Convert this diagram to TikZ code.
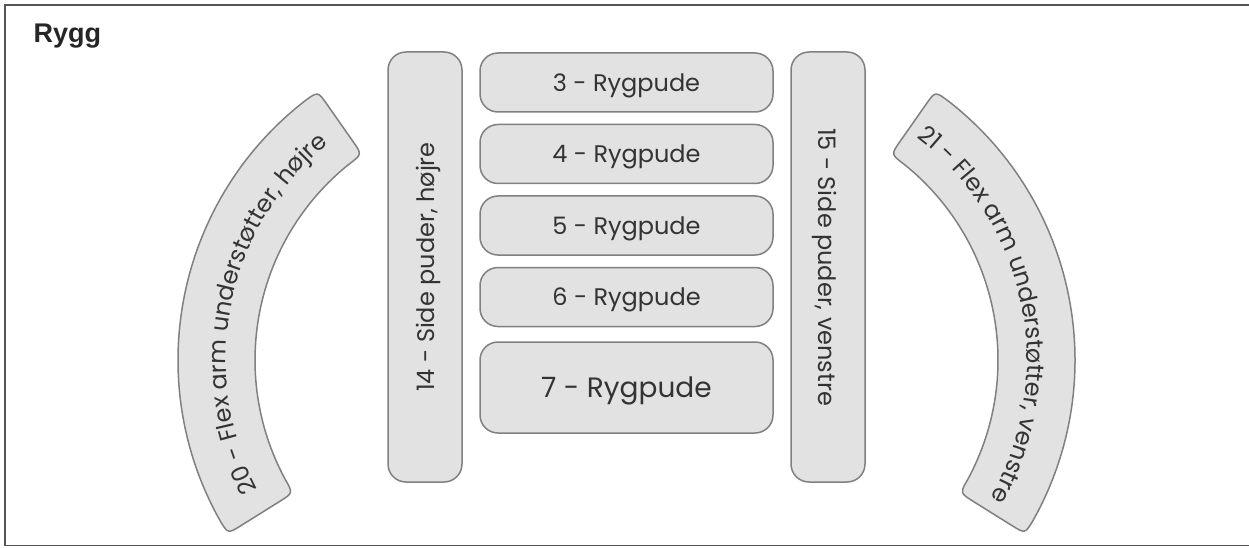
\documentclass[tikz,border=0pt]{standalone}
\usepackage{fontspec}
\setmainfont{Poppins}
\newfontfamily\headfont{Liberation Sans}
\usetikzlibrary{positioning,decorations.text}
\definecolor{padfill}{HTML}{E2E2E2}
\definecolor{padline}{HTML}{808080}
\definecolor{padtext}{HTML}{333333}
\definecolor{framecol}{HTML}{555555}
\tikzset{
  pad/.style={draw=padline, fill=padfill, line width=1.5pt, rounded corners=18pt,
    text=padtext, inner sep=0pt, text depth=0pt, font=\fontsize{24}{28}\selectfont},
  cushion/.style={pad, minimum width=293pt, minimum height=59pt},
  sidepad/.style={pad, minimum width=430pt, minimum height=74pt},
  armpad/.style={draw=padline, fill=padfill, line width=1.5pt},
  armtext/.style={decorate, decoration={text along path, text align=center,
    text color=padtext, text={|\fontsize{24}{28}\selectfont|#1}}}
}
% curved arm rest: centre x, first angle, last angle
\newcommand\flexarm[3]{%
  \begin{scope}[shift={(#1,187)}]
    \draw[armpad] (#2:267pt) -- (#2:312pt) .. controls (#2:328pt) .. ({#2-2.8}:328pt)
      arc[start angle={#2-2.8}, end angle={#3+2.8}, radius=328pt]
      .. controls (#3:328pt) .. (#3:312pt) -- (#3:267pt)
      .. controls (#3:251pt) .. ({#3+3.65}:251pt)
      arc[start angle={#3+3.65}, end angle={#2-3.65}, radius=251pt]
      .. controls (#2:251pt) .. (#2:267pt) -- cycle;
  \end{scope}}
\begin{document}
\begin{tikzpicture}[x=1pt, y=1pt]
  \useasboundingbox (0,0) rectangle (1249,547);
  \draw[framecol, line width=1.5pt] (1250,542) -- (5,542) -- (5,1.5) -- (1250,1.5);
  \node[anchor=base west, font=\headfont\bfseries\fontsize{27}{30}\selectfont, text=black!85]
    (title) at (30,504) {Rygg};

  % back cushions
  \node[cushion] (r3) at (626.5,464.5) {3 - Rygpude};
  \node[cushion, below=11pt of r3] (r4) {4 - Rygpude};
  \node[cushion, below=11pt of r4] (r5) {5 - Rygpude};
  \node[cushion, below=11pt of r5] (r6) {6 - Rygpude};
  \node[cushion, minimum height=91pt, below=14pt of r6, font=\fontsize{28}{32}\selectfont] (r7) {7 - Rygpude};

  % side cushions
  \node[sidepad, rotate=90] (s14) at (425,280) {14 - Side puder, højre};
  \node[sidepad, rotate=-90] (s15) at (828,280) {15 - Side puder, venstre};

  % flex arms
  \flexarm{506}{212}{125}
  \flexarm{747}{55}{-32}
  \path[armtext={20 - Flex arm understøtter, højre}]
    (506,187) ++(219:280pt) arc[start angle=219, end angle=118, radius=280pt];
  \path[armtext={21 - Flex arm understøtter, venstre}]
    (747,187) ++(62:280pt) arc[start angle=62, end angle=-39, radius=280pt];
\end{tikzpicture}
\end{document}
